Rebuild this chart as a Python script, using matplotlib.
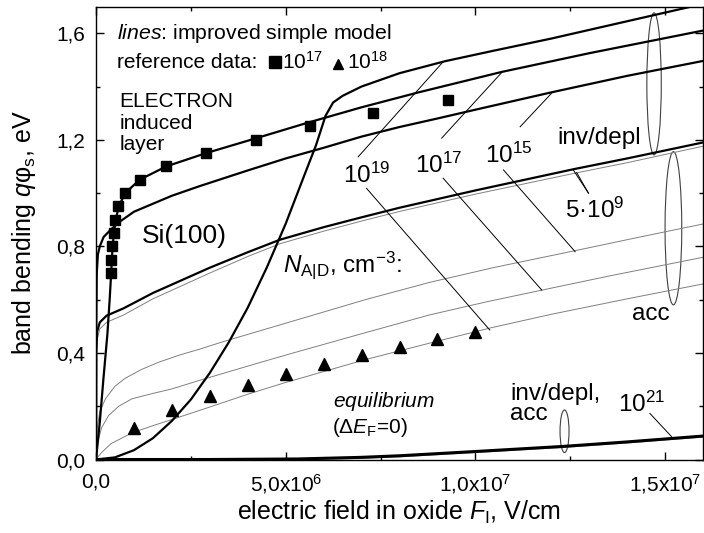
import numpy as np
import matplotlib
matplotlib.use('Agg')
import matplotlib.pyplot as plt
from matplotlib.patches import Ellipse

plt.rcParams['font.family'] = ['Liberation Sans', 'DejaVu Sans']
plt.rcParams['mathtext.fontset'] = 'custom'
plt.rcParams['mathtext.rm'] = 'Liberation Sans'
plt.rcParams['mathtext.it'] = 'Liberation Sans:italic'
plt.rcParams['mathtext.bf'] = 'Liberation Sans:bold'

# x values in units of 1e6 V/cm, band bending in eV
# inversion / depletion branches (thick)
n19_inv_x = [0, 0.5, 1.0, 1.5, 2.0, 2.5, 3.0, 3.5, 4.0, 4.5, 5.0, 5.5, 5.8, 6.05, 6.25, 6.5, 7.0, 8.0, 9.2, 10.5, 12.0, 14.0, 16.0]
n19_inv_y = [0, 0.008, 0.035, 0.08, 0.145, 0.225, 0.325, 0.44, 0.57, 0.72, 0.885, 1.07, 1.18, 1.29, 1.34, 1.365, 1.40, 1.45, 1.495, 1.535, 1.58, 1.645, 1.71]

n17_inv_x = [0, 0.1, 0.2, 0.3, 0.36, 0.4, 0.43, 0.47, 0.52, 0.6, 0.77, 1.15, 1.85, 2.9, 4.2, 5.6, 7.0, 8.5, 10.7, 13.0, 16.0]
n17_inv_y = [0, 0.14, 0.31, 0.47, 0.6, 0.70, 0.78, 0.85, 0.90, 0.95, 1.0, 1.05, 1.10, 1.15, 1.205, 1.265, 1.322, 1.378, 1.455, 1.525, 1.61]

n15_inv_x = [0, 0.005, 0.02, 0.05, 0.1, 0.2, 0.37, 0.6, 1.0, 2.0, 2.75, 4.0, 5.0, 6.0, 7.0, 8.0, 9.0, 10.0, 12.0, 14.0, 16.0]
n15_inv_y = [0, 0.45, 0.70, 0.77, 0.80, 0.835, 0.86, 0.89, 0.93, 0.99, 1.027, 1.085, 1.13, 1.17, 1.212, 1.248, 1.28, 1.313, 1.378, 1.44, 1.496]

n5e9_x = [0, 0.005, 0.03, 0.1, 0.28, 0.72, 1.5, 3.0, 4.0, 4.85, 6.0, 7.0, 8.0, 10.0, 12.6, 14.0, 16.0]
n5e9_inv_y = [0, 0.40, 0.48, 0.515, 0.54, 0.567, 0.625, 0.72, 0.778, 0.825, 0.872, 0.909, 0.945, 1.01, 1.09, 1.13, 1.19]
n5e9_acc_y = [0, 0.38, 0.45, 0.49, 0.515, 0.542, 0.603, 0.70, 0.762, 0.81, 0.857, 0.895, 0.931, 0.996, 1.074, 1.114, 1.176]

# accumulation branches (thin)
n15_acc_x = [0, 0.01, 0.03, 0.1, 0.25, 0.5, 0.77, 1.2, 1.65, 2.2, 2.75, 3.3, 4.2, 5.2, 6.2, 7.1, 8.8, 10.5, 12.6, 14.3, 16.0]
n15_acc_y = [0, 0.06, 0.115, 0.18, 0.228, 0.275, 0.305, 0.338, 0.365, 0.392, 0.415, 0.44, 0.478, 0.52, 0.562, 0.60, 0.665, 0.721, 0.783, 0.834, 0.884]

n17_acc_x = [0, 0.02, 0.07, 0.15, 0.33, 0.6, 0.95, 1.5, 2.0, 2.75, 3.3, 4.2, 5.2, 6.2, 7.1, 8.8, 10.3, 11.76, 13.5, 16.0]
n17_acc_y = [0, 0.04, 0.078, 0.12, 0.165, 0.2, 0.228, 0.248, 0.265, 0.298, 0.321, 0.359, 0.40, 0.44, 0.476, 0.543, 0.592, 0.636, 0.688, 0.759]

n19_acc_x = [0, 0.05, 0.16, 0.4, 0.95, 1.5, 2.0, 3.0, 4.0, 4.95, 6.0, 7.1, 8.8, 10.4, 12.0, 14.0, 16.0]
n19_acc_y = [0, 0.01, 0.028, 0.06, 0.10, 0.127, 0.15, 0.197, 0.245, 0.287, 0.33, 0.375, 0.437, 0.494, 0.545, 0.603, 0.659]

n21_x = [0, 3.0, 5.3, 6.97, 8.0, 10.0, 12.3, 14.0, 16.0]
n21_inv_y = [0, 0.0, 0.002, 0.008, 0.014, 0.03, 0.049, 0.066, 0.088]
n21_acc_y = [0, 0.0, 0.0, 0.004, 0.010, 0.026, 0.045, 0.062, 0.084]

# reference data
sq_x = [0.40, 0.40, 0.43, 0.47, 0.51, 0.59, 0.77, 1.15, 1.85, 2.90, 4.23, 5.65, 7.31, 9.29]
sq_y = [0.70, 0.75, 0.80, 0.85, 0.90, 0.95, 1.00, 1.05, 1.10, 1.15, 1.20, 1.25, 1.30, 1.35]
tri_x = [1, 2, 3, 4, 5, 6, 7, 8, 9, 10]
tri_y = [0.12, 0.185, 0.237, 0.281, 0.321, 0.359, 0.393, 0.421, 0.452, 0.478]

xticks = [0, 5, 10, 15]
xticklabels = ['0,0', '5,0x10$^6$', '1,0x10$^7$', '1,5x10$^7$']
yticks = [0, 0.4, 0.8, 1.2, 1.6]
yticklabels = ['0,0', '0,4', '0,8', '1,2', '1,6']

fig = plt.figure(figsize=(7.04, 5.33), dpi=100)
ax = fig.add_axes([96/704, 73.5/533, 607/704, 452.9/533])

gray = '#808080'
thin = 0.7
thick = 1.6
ax.plot(n15_acc_x, n15_acc_y, color=gray, lw=thin)
ax.plot(n17_acc_x, n17_acc_y, color=gray, lw=thin)
ax.plot(n19_acc_x, n19_acc_y, color=gray, lw=thin)
ax.plot(n5e9_x, n5e9_acc_y, color=gray, lw=thin)
ax.plot(n21_x, n21_acc_y, color=gray, lw=thin)

ax.plot(n5e9_x, n5e9_inv_y, color='k', lw=thick)
ax.plot(n15_inv_x, n15_inv_y, color='k', lw=thick)
ax.plot(n17_inv_x, n17_inv_y, color='k', lw=thick)
ax.plot(n19_inv_x, n19_inv_y, color='k', lw=thick)
ax.plot(n21_x, n21_inv_y, color='k', lw=2.2)

ax.plot(sq_x, sq_y, 's', color='k', ms=7)
ax.plot(tri_x, tri_y, '^', color='k', ms=8)

# leader lines
lk = dict(color='k', lw=0.7)
ax.plot([6.91, 9.12], [1.136, 1.488], **lk)
ax.plot([7.13, 10.38], [1.018, 0.486], **lk)
ax.plot([9.11, 10.69], [1.206, 1.452], **lk)
ax.plot([9.15, 11.75], [1.056, 0.636], **lk)
ax.plot([11.18, 12.01], [1.249, 1.375], **lk)
ax.plot([10.74, 12.63], [1.087, 0.78], **lk)
ax.plot([12.98, 12.58], [1.0, 1.087], **lk)
ax.plot([12.98, 12.67], [1.0, 1.077], **lk)
ax.plot([14.6, 15.17], [0.173, 0.086], **lk)

ek = dict(fill=False, ec='#404040', lw=0.8)
ax.add_patch(Ellipse((14.71, 1.41), 0.38, 0.533, **ek))
ax.add_patch(Ellipse((15.22, 0.868), 0.44, 0.575, **ek))
ax.add_patch(Ellipse((12.35, 0.106), 0.237, 0.16, **ek))

# texts
ax.text(0.553, 1.578, r'$\mathit{lines}$: improved simple model', fontsize=15.3, va='baseline')
ax.text(0.553, 1.468, 'reference data:', fontsize=15, va='baseline')
ax.plot([4.73], [1.492], 's', color='k', ms=8.5)
ax.text(4.90, 1.468, '10$^{17}$', fontsize=15, va='baseline')
ax.plot([6.38], [1.485], '^', color='k', ms=7)
ax.text(6.61, 1.468, '10$^{18}$', fontsize=15, va='baseline')
ax.text(0.615, 1.324, 'ELECTRON', fontsize=15, va='baseline')
ax.text(0.615, 1.239, 'induced', fontsize=15, va='baseline')
ax.text(0.615, 1.162, 'layer', fontsize=15, va='baseline')
ax.text(1.21, 0.814, 'Si(100)', fontsize=19, va='baseline')

ax.text(6.52, 1.037, '10$^{19}$', fontsize=17.5, va='baseline')
ax.text(8.41, 1.074, '10$^{17}$', fontsize=17.5, va='baseline')
ax.text(10.25, 1.112, '10$^{15}$', fontsize=17.5, va='baseline')
ax.text(12.15, 1.184, 'inv/depl', fontsize=17.5, va='baseline')
ax.text(12.36, 0.905, '5·10$^9$', fontsize=17.5, va='baseline')
ax.text(14.13, 0.524, 'acc', fontsize=17.5, va='baseline')
ax.text(4.93, 0.705, r'$N_\mathrm{A|D}$, cm$^{-3}$:', fontsize=17.5, va='baseline')
ax.text(6.25, 0.196, r'$\mathit{equilibrium}$', fontsize=15, va='baseline')
ax.text(6.21, 0.098, r'(Δ$E_\mathrm{F}$=0)', fontsize=15, va='baseline')
ax.text(10.91, 0.223, 'inv/depl,', fontsize=17.5, va='baseline')
ax.text(10.91, 0.148, 'acc', fontsize=17.5, va='baseline')
ax.text(13.77, 0.179, '10$^{21}$', fontsize=17.5, va='baseline')

ax.set_xlim(0, 16)
ax.set_ylim(0, 1.7)
ax.set_xticks(xticks)
ax.set_xticklabels(xticklabels)
ax.set_xticks([2.5, 7.5, 12.5], minor=True)
ax.set_yticks(yticks)
ax.set_yticklabels(yticklabels)
ax.set_yticks([0.2, 0.6, 1.0, 1.4], minor=True)
ax.tick_params(which='both', direction='in', top=True, right=True, width=1.0)
ax.tick_params(which='major', length=5.5, labelsize=15)
ax.tick_params(which='minor', length=3)
ax.tick_params(axis='x', pad=9)
ax.tick_params(axis='y', pad=8)
for s in ax.spines.values():
    s.set_linewidth(1.0)

ax.set_xlabel(r'electric field in oxide $F_\mathrm{I}$, V/cm', fontsize=18)
ax.set_ylabel(r'band bending $q$φ$_\mathrm{s}$, eV', fontsize=18)
ax.xaxis.set_label_coords(0.5, -0.086)
ax.yaxis.set_label_coords(-0.095, 0.5)

fig.savefig('out.png', dpi=100)
